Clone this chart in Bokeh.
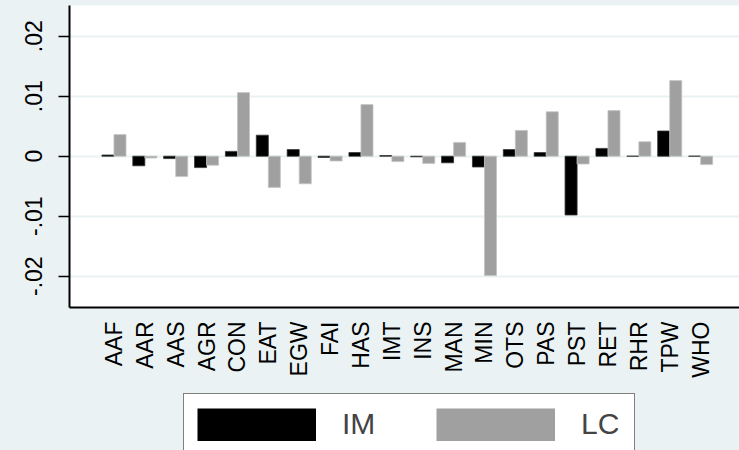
import math
from bokeh.plotting import figure
from bokeh.layouts import column
from bokeh.models import ColumnDataSource, Legend, LegendItem, FixedTicker, Range1d
from bokeh.transform import dodge
from bokeh.embed import file_html
from bokeh.resources import INLINE

categories = ["AAF", "AAR", "AAS", "AGR", "CON", "EAT", "EGW", "FAI", "HAS", "IMT",
              "INS", "MAN", "MIN", "OTS", "PAS", "PST", "RET", "RHR", "TPW", "WHO"]
im_values = [0.0002, -0.0016, -0.0004, -0.0019, 0.0008, 0.0035, 0.0011, -0.0002, 0.0006, 0.0001,
             -0.0001, -0.0011, -0.0018, 0.0011, 0.0006, -0.0098, 0.0013, 0.0, 0.0042, 0.0]
lc_values = [0.0036, -0.0003, -0.0034, -0.0015, 0.0106, -0.0052, -0.0046, -0.0008, 0.0086, -0.0009,
             -0.0012, 0.0023, -0.0199, 0.0043, 0.0074, -0.0013, 0.0076, 0.0024, 0.0126, -0.0014]
series_names = ["IM", "LC"]
y_ticks = [-0.02, -0.01, 0.0, 0.01, 0.02]
y_tick_labels = ["-.02", "-.01", "0", ".01", ".02"]

BG = "#eaf2f3"
FONT = "Liberation Sans"
IM_COLOR = "black"
LC_COLOR = "#a0a0a0"

src = ColumnDataSource(dict(
    x=list(range(1, len(categories) + 1)),
    im=im_values,
    lc=lc_values,
))

x_rng = Range1d(-0.44, 21.26)
p = figure(width=739, height=390, output_backend="svg", toolbar_location=None,
           x_range=x_rng, y_range=Range1d(-0.02522, 0.02512),
           min_border_left=69, min_border_right=0, min_border_top=5, min_border_bottom=83)
p.border_fill_color = BG
p.background_fill_color = "white"
p.outline_line_color = None

bw = 0.39
p.vbar(x=dodge("x", -bw / 2), top="im", bottom=0, width=bw, source=src,
       fill_color=IM_COLOR, line_color="#333333", line_width=0.8)
p.vbar(x=dodge("x", bw / 2), top="lc", bottom=0, width=bw, source=src,
       fill_color=LC_COLOR, line_color="#c4c4c4", line_width=0.8)

# grid
p.xgrid.visible = False
p.ygrid.ticker = FixedTicker(ticks=y_ticks)
p.ygrid.grid_line_color = BG
p.ygrid.grid_line_width = 2
p.ygrid.level = "image"

# y axis
ya = p.yaxis[0]
ya.ticker = FixedTicker(ticks=y_ticks)
ya.major_label_overrides = {t: l for t, l in zip(y_ticks, y_tick_labels)}
ya.major_label_orientation = "vertical"
ya.major_label_text_font = FONT
ya.major_label_text_font_size = "23px"
ya.major_label_text_color = "black"
ya.major_tick_out = 11
ya.major_tick_in = 0
ya.minor_tick_out = 0
ya.minor_tick_in = 0
ya.major_tick_line_width = 1.5
ya.axis_line_width = 2
ya.axis_line_color = "black"
ya.major_label_standoff = 16

# x axis
xa = p.xaxis[0]
xa.ticker = FixedTicker(ticks=list(range(1, len(categories) + 1)))
xa.major_label_overrides = {i + 1: c for i, c in enumerate(categories)}
xa.major_label_orientation = math.pi / 2
xa.major_label_text_font = FONT
xa.major_label_text_font_size = "23px"
xa.major_label_text_color = "black"
xa.major_tick_out = 0
xa.major_tick_in = 0
xa.minor_tick_out = 0
xa.minor_tick_in = 0
xa.axis_line_width = 2
xa.axis_line_color = "black"
xa.major_label_standoff = 14

# legend strip below the chart (same data, kept out of view; only the legend keys show)
pl = figure(width=739, height=60, output_backend="svg", toolbar_location=None,
            x_range=x_rng, y_range=Range1d(1, 2),
            x_axis_location=None, y_axis_location=None,
            min_border_left=69, min_border_right=0, min_border_top=0, min_border_bottom=0)
pl.border_fill_color = BG
pl.background_fill_color = None
pl.outline_line_color = None
pl.xgrid.visible = False
pl.ygrid.visible = False
k_im = pl.line(x="x", y="im", source=src, line_color=IM_COLOR, line_width=33, line_cap="butt")
k_lc = pl.line(x="x", y="lc", source=src, line_color=LC_COLOR, line_width=33, line_cap="butt")

legend = Legend(items=[LegendItem(label=series_names[0], renderers=[k_im]),
                       LegendItem(label=series_names[1], renderers=[k_lc])],
                orientation="horizontal", location=(114, -5), margin=0,
                glyph_width=119, glyph_height=33, label_standoff=26, label_width=40,
                spacing=54, padding=13,
                label_text_font=FONT, label_text_font_size="30px",
                border_line_color="black", border_line_width=1.5,
                background_fill_color="white", background_fill_alpha=1.0)
pl.add_layout(legend, "center")

layout = column(p, pl, spacing=0)
html = file_html(layout, INLINE)
html = html.replace("</head>", "<style>html, body { background: #eaf2f3; }</style>\n</head>", 1)
open("out.html", "w").write(html)
